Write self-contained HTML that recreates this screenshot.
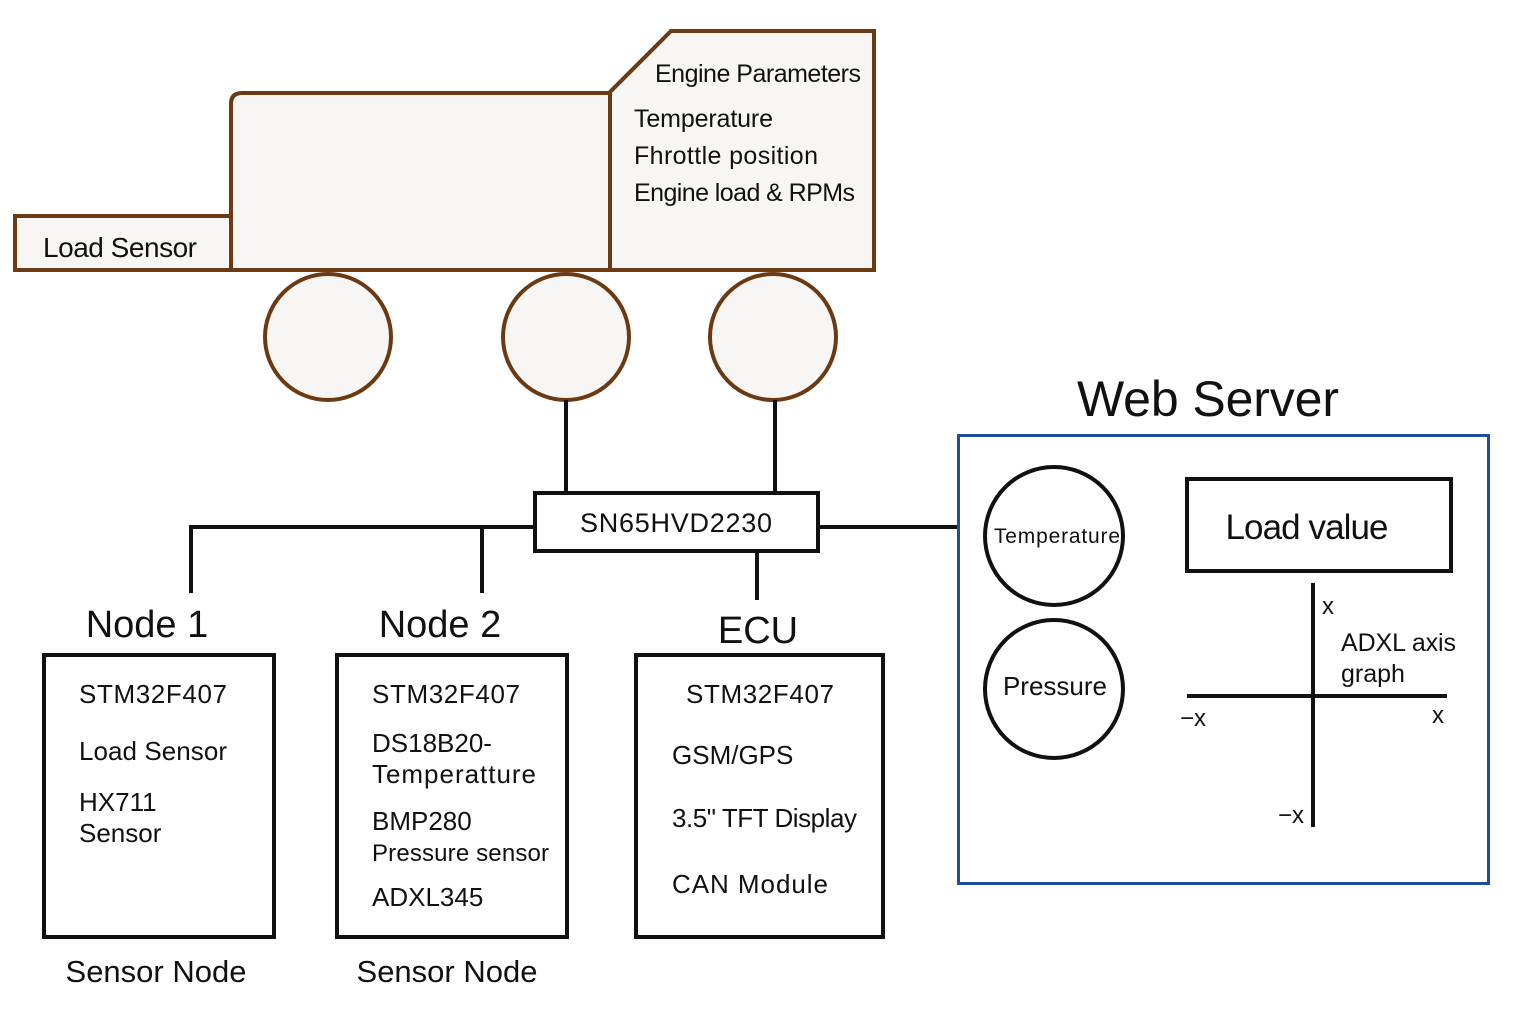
<!DOCTYPE html>
<html><head><meta charset="utf-8"><style>html,body{margin:0;padding:0;background:#fff}svg{display:block}text{font-family:"Liberation Sans",sans-serif;fill:#111}</style></head>
<body>
<svg width="1536" height="1024" viewBox="0 0 1536 1024" xmlns="http://www.w3.org/2000/svg">
<g stroke="#6b3a12" stroke-width="4" fill="#f7f6f4">
<rect x="15" y="216" width="216" height="54"/>
<path d="M231 270 V104 Q231 93 242 93 H610 V270 Z"/>
<path d="M610 270 V92 L671 31 H874 V270 Z"/>
<circle cx="328" cy="337" r="63"/>
<circle cx="566" cy="337" r="63"/>
<circle cx="773" cy="337" r="63"/>
</g>
<text x="43" y="257" font-size="28" textLength="154">Load Sensor</text>
<text x="655" y="82" font-size="25" textLength="206">Engine Parameters</text>
<text x="634" y="127" font-size="25" textLength="139">Temperature</text>
<text x="634" y="164" font-size="25" textLength="184">Fhrottle position</text>
<text x="634" y="201" font-size="25" textLength="221">Engine load &amp; RPMs</text>
<g stroke="#111" stroke-width="4" fill="none">
<line x1="566" y1="400" x2="566" y2="493"/>
<line x1="775" y1="400" x2="775" y2="493"/>
<polyline points="191,593 191,527 535,527"/>
<line x1="482" y1="527" x2="482" y2="593"/>
<line x1="818" y1="527" x2="958" y2="527"/>
<line x1="757" y1="551" x2="757" y2="600"/>
<rect x="535" y="493" width="283" height="58" fill="#fff"/>
<rect x="44" y="655" width="230" height="282"/>
<rect x="337" y="655" width="230" height="282"/>
<rect x="636" y="655" width="247" height="282"/>
<circle cx="1054" cy="536" r="69"/>
<circle cx="1054" cy="689" r="69"/>
<rect x="1187" y="479" width="264" height="92"/>
<line x1="1313" y1="583" x2="1313" y2="827"/>
<line x1="1187" y1="696" x2="1447" y2="696"/>
</g>
<rect x="958.5" y="435.5" width="530" height="448" fill="none" stroke="#1f4e9c" stroke-width="3"/>
<text x="676" y="532" font-size="27" text-anchor="middle" textLength="192">SN65HVD2230</text>
<text x="147" y="637" font-size="38" text-anchor="middle">Node 1</text>
<text x="440" y="637" font-size="38" text-anchor="middle">Node 2</text>
<text x="758" y="643" font-size="38" text-anchor="middle">ECU</text>
<g font-size="26">
<text x="79" y="703" textLength="148">STM32F407</text>
<text x="79" y="760" textLength="148">Load Sensor</text>
<text x="79" y="811">HX711</text>
<text x="79" y="842">Sensor</text>
<text x="372" y="703" textLength="148">STM32F407</text>
<text x="372" y="752">DS18B20-</text>
<text x="372" y="783" textLength="164">Temperatture</text>
<text x="372" y="830">BMP280</text>
<text x="372" y="861" font-size="24" textLength="177">Pressure sensor</text>
<text x="372" y="906">ADXL345</text>
<text x="686" y="703" textLength="148">STM32F407</text>
<text x="672" y="764">GSM/GPS</text>
<text x="672" y="827" textLength="185">3.5" TFT Display</text>
<text x="672" y="893" textLength="156">CAN Module</text>
</g>
<text x="156" y="982" font-size="31" text-anchor="middle">Sensor Node</text>
<text x="447" y="982" font-size="31" text-anchor="middle">Sensor Node</text>
<text x="1208" y="416" font-size="50" text-anchor="middle" textLength="262">Web Server</text>
<text x="1057" y="543" font-size="21" text-anchor="middle" textLength="126">Temperature</text>
<text x="1055" y="695" font-size="26" text-anchor="middle">Pressure</text>
<text x="1307" y="539" font-size="35" text-anchor="middle" textLength="163">Load value</text>
<text x="1341" y="651" font-size="25" textLength="115">ADXL axis</text>
<text x="1341" y="682" font-size="25">graph</text>
<g font-size="24">
<text x="1322" y="614">x</text>
<text x="1180" y="726">−x</text>
<text x="1432" y="723">x</text>
<text x="1278" y="823">−x</text>
</g>
</svg>
</body></html>
